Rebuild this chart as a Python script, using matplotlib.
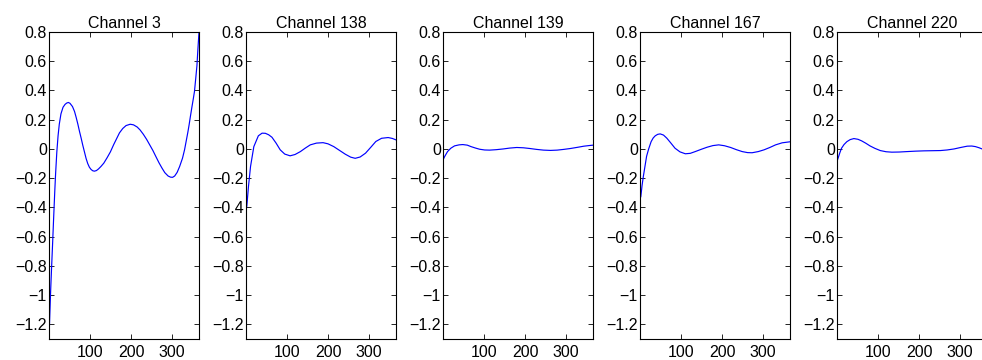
import matplotlib
matplotlib.use("Agg")
import matplotlib.pyplot as plt
from matplotlib.ticker import FuncFormatter

plt.rcParams['font.family'] = ['Liberation Sans', 'DejaVu Sans']

titles = ["Channel 3", "Channel 138", "Channel 139", "Channel 167", "Channel 220"]

# values, (x, y)
ch3_x = [1, 3, 5, 7, 10, 12, 15, 17, 20, 23, 26, 30, 35, 40, 44, 48, 52, 58, 63, 67, 71, 75,
         79, 83, 87, 91, 95, 99, 103, 107, 111, 116, 121, 127, 134, 142, 150, 158, 165, 172,
         180, 188, 198, 206, 215, 222, 230, 238, 245, 253, 260, 268, 275, 282, 290, 296, 301,
         306, 312, 318, 325, 330, 335, 338, 341, 344, 348, 351, 354, 357, 360, 362, 365]
ch3_y = [-1.30, -1.13, -0.97, -0.83, -0.63, -0.49, -0.29, -0.17, -0.02, 0.09, 0.17, 0.24,
         0.285, 0.305, 0.314, 0.318, 0.312, 0.29, 0.256, 0.215, 0.17, 0.12, 0.074, 0.025,
         -0.02, -0.065, -0.10, -0.125, -0.14, -0.149, -0.152, -0.148, -0.137, -0.12, -0.097,
         -0.06, -0.02, 0.03, 0.07, 0.11, 0.14, 0.16, 0.169, 0.165, 0.15, 0.13, 0.10, 0.065,
         0.03, -0.01, -0.05, -0.095, -0.13, -0.162, -0.185, -0.193, -0.194, -0.185, -0.16,
         -0.12, -0.063, -0.005, 0.07, 0.115, 0.165, 0.22, 0.29, 0.34, 0.393, 0.48, 0.57,
         0.667, 0.80]

ch138_x = [1, 3, 7, 12, 20, 31, 40, 48, 56, 64, 74, 84, 95, 108, 120, 133, 145, 157, 172, 188,
           200, 214, 228, 242, 255, 266, 278, 291, 304, 316, 330, 346, 356, 365]
ch138_y = [-0.42, -0.39, -0.257, -0.12, 0.016, 0.09, 0.108, 0.107, 0.097, 0.08, 0.04, -0.006,
           -0.035, -0.047, -0.038, -0.018, 0.006, 0.028, 0.04, 0.043, 0.035, 0.016, -0.01,
           -0.036, -0.056, -0.064, -0.055, -0.029, 0.012, 0.051, 0.073, 0.078, 0.072, 0.062]

ch139_x = [1, 5, 12, 20, 29, 40, 49, 60, 69, 80, 90, 102, 114, 130, 147, 163, 180, 196, 212,
           228, 245, 262, 278, 294, 310, 327, 343, 355, 365]
ch139_y = [-0.075, -0.052, -0.018, 0.005, 0.021, 0.028, 0.03, 0.026, 0.016, 0.006, -0.002,
           -0.007, -0.008, -0.005, 0.0, 0.006, 0.01, 0.008, 0.003, -0.003, -0.008, -0.01,
           -0.008, -0.003, 0.003, 0.011, 0.019, 0.023, 0.026]

ch167_x = [1, 3, 6, 9, 13, 17, 22, 28, 33, 38, 44, 50, 58, 66, 76, 86, 98, 111, 123, 135, 150,
           164, 178, 192, 206, 221, 235, 249, 262, 273, 288, 302, 316, 330, 346, 365]
ch167_y = [-0.34, -0.326, -0.25, -0.19, -0.12, -0.05, 0.0, 0.05, 0.075, 0.09, 0.1, 0.103,
           0.095, 0.074, 0.04, 0.005, -0.02, -0.033, -0.03, -0.018, -0.002, 0.012, 0.023,
           0.028, 0.022, 0.01, -0.005, -0.018, -0.025, -0.026, -0.018, -0.006, 0.01, 0.028,
           0.042, 0.049]

ch220_x = [1, 4, 8, 12, 18, 25, 33, 42, 52, 61, 71, 81, 93, 106, 120, 134, 152, 171, 192, 212,
           232, 252, 268, 285, 301, 317, 328, 337, 346, 354, 365]
ch220_y = [-0.085, -0.06, -0.025, 0.005, 0.03, 0.05, 0.064, 0.071, 0.066, 0.055, 0.039,
           0.021, 0.004, -0.011, -0.019, -0.022, -0.021, -0.018, -0.015, -0.013, -0.012,
           -0.011, -0.007, 0.0, 0.01, 0.019, 0.02, 0.016, 0.008, -0.001, -0.012]

xs = [ch3_x, ch138_x, ch139_x, ch167_x, ch220_x]
ys = [ch3_y, ch138_y, ch139_y, ch167_y, ch220_y]

W, H = 982, 360
fig = plt.figure(figsize=(W / 100, H / 100), dpi=100)

lefts = [49, 246, 443, 640, 837]
yticks = [-1.2, -1, -0.8, -0.6, -0.4, -0.2, 0, 0.2, 0.4, 0.6, 0.8]
fmt = FuncFormatter(lambda v, p: ("%g" % round(v, 2)).replace("-", "\u2212"))

for i in range(5):
    ax = fig.add_axes([lefts[i] / W, 21 / H, 150 / W, 307 / H])
    ax.plot(xs[i], ys[i], color=(0, 0, 1), lw=0.85)
    ax.set_xlim(1, 365)
    ax.set_ylim(-1.3, 0.8)
    ax.set_xticks([100, 200, 300])
    ax.set_yticks(yticks)
    ax.yaxis.set_major_formatter(fmt)
    ax.tick_params(direction='in', length=3.5, width=0.6, top=True, right=True,
                   labelsize=11.5, colors='black')
    ax.tick_params(axis='y', pad=1.5)
    ax.tick_params(axis='x', pad=4)
    for s in ax.spines.values():
        s.set_linewidth(0.8)
    ax.set_title(titles[i], fontsize=11.5, pad=3)

plt.savefig("out.png", dpi=100)
plt.close()
